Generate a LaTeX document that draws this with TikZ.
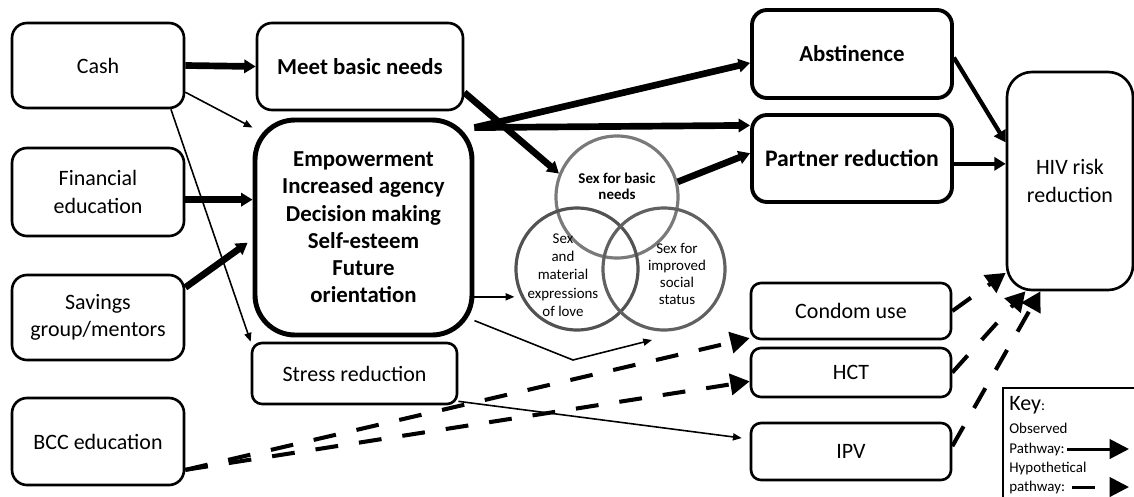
\documentclass[tikz,border=0pt]{standalone}
\usepackage{fontspec}
\setmainfont{Carlito}
\usetikzlibrary{arrows.meta}

\begin{document}
\begin{tikzpicture}[
  box/.style={draw, line width=1.5pt, rounded corners=0.3cm, minimum width=3.44cm,
    align=center, inner sep=2pt, font=\fontsize{12.5}{15.5}\selectfont},
  boldbox/.style={box, font=\fontsize{13}{15.5}\selectfont\bfseries},
  ring/.style={circle, draw=black!62, line width=1.8pt, minimum size=2.44cm, inner sep=0pt},
  ringtext/.style={align=center, inner sep=0pt},
  keytext/.style={anchor=base west, inner sep=0pt, font=\fontsize{8.5}{10}\selectfont},
  observed/.style={line width=3.8pt, -{Triangle[length=6.5pt,width=7.5pt]}},
  weak/.style={line width=0.9pt, -{Triangle[length=5pt,width=4pt]}},
  hypo/.style={line width=2.3pt, dash pattern=on 13pt off 12pt, -{Triangle[length=11pt,width=12pt]}},
  keyarrow/.style={line width=1.7pt, -{Triangle[length=11pt,width=11pt]}},
]
\useasboundingbox (0,0) rectangle (22.68,9.92);
\clip (0,0) rectangle (22.68,9.92);

% left column
\node[box, minimum height=1.70cm] (cash) at (1.96,8.61) {Cash};
\node[box, minimum height=1.76cm] (fin) at (1.96,6.08) {Financial\\education};
\node[box, minimum height=1.70cm] (sav) at (1.96,3.57) {Savings\\group/mentors};
\node[box, minimum height=1.74cm] (bcc) at (1.96,1.09) {BCC education};

% middle
\node[boldbox, minimum width=4.12cm, minimum height=1.74cm] (meet) at (7.20,8.59) {Meet basic needs};
\node[boldbox, line width=2.8pt, rounded corners=0.8cm, minimum width=4.34cm, minimum height=4.30cm]
  (emp) at (7.27,5.37) {Empowerment\\Increased agency\\Decision making\\Self-esteem\\Future\\orientation};
\node[box, rounded corners=0.2cm, minimum width=4.10cm, minimum height=1.22cm] (stress) at (7.09,2.45) {Stress reduction};

% venn
\node[ring, draw=black!52] (ctop) at (12.34,5.98) {};
\node[ring, draw=black!68] (cleft) at (11.54,4.54) {};
\node[ring] (cright) at (13.28,4.54) {};
\node[ringtext, font=\fontsize{8.5}{9.3}\selectfont\bfseries] (ttop) at (12.34,6.20) {Sex for basic\\needs};
\node[ringtext, font=\fontsize{8.5}{10.4}\selectfont] (tleft) at (11.26,4.42) {Sex\\and\\material\\expressions\\of love};
\node[ringtext, font=\fontsize{8.5}{9.7}\selectfont] (tright) at (13.54,4.44) {Sex for\\improved\\social\\status};

% right
\node[boldbox, line width=2.2pt, minimum width=4.0cm, minimum height=1.76cm] (abst) at (17.04,8.84) {Abstinence};
\node[boldbox, line width=2.2pt, minimum width=4.0cm, minimum height=1.74cm, font=\fontsize{13.5}{16}\selectfont\bfseries]
  (part) at (17.04,6.75) {Partner reduction};
\node[box, rounded corners=0.2cm, minimum width=4.0cm, minimum height=1.12cm] (condom) at (17.02,3.70) {Condom use};
\node[box, rounded corners=0.2cm, minimum width=4.0cm, minimum height=0.98cm] (hct) at (17.02,2.47) {HCT};
\node[box, rounded corners=0.2cm, minimum width=4.0cm, minimum height=1.14cm] (ipv) at (17.02,0.89) {IPV};
\node[box, rounded corners=0.5cm, minimum width=2.52cm, minimum height=4.36cm] (hiv) at (21.40,6.30) {HIV risk\\reduction};

\coordinate (bend) at (11.46,2.72);
\coordinate (bendtip) at (13.04,3.12);

% observed pathways
\draw[observed] (cash.east) -- (meet.west);
\draw[observed] (fin.-5) -- (fin.-5 -| emp.west);
\draw[observed, shorten >=0.12cm] (sav.19) -- (emp.186.6);
\draw[observed] (meet.-14) -- (ctop.158);
\draw[observed] (emp.42) -- (abst.185);
\draw[observed] (emp.42) -- (part.162.5);
\draw[observed] (ctop.14) -- (part.177);
\draw[observed, line width=2.4pt] (abst.-2) -- (hiv.149);
\draw[observed, line width=2.4pt] (part.-3) -- (part.-3 -| hiv.west);
\draw[weak] (cash.-17.5) -- (emp.138.7);
\draw[weak] (cash.-31.6) -- (stress.north west);
\draw[weak] (emp.-32.3) -- (emp.-32.3 -| cleft.west);
\draw[weak] (emp.-40.7) -- (bend) -- (bendtip);
\draw[weak, shorten >=0.16cm] (stress.-15.5) -- (ipv.173.4);

% hypothetical pathways
\draw[hypo] (bcc.-18.3) -- (condom.195);
\draw[hypo] (bcc.-18.3) -- (hct.185.4);
\draw[hypo] (condom.east) -- (hiv.235.3);
\draw[hypo] (hct.east) -- (hiv.248.5);
\draw[hypo] (ipv.3) -- (hiv.255.6);

% key
\node[draw, line width=1pt, anchor=north west, minimum width=3.2cm, minimum height=2.8cm] (key) at (20.04,2.18) {};
\node[anchor=base west, inner sep=0pt, font=\fontsize{12.5}{14}\selectfont] (ktitle) at (20.18,1.72) {Key{\fontsize{8.5}{10}\selectfont:}};
\node[keytext] (kobs) at (20.18,1.26) {Observed};
\node[keytext] (kpath) at (20.18,0.86) {Pathway:};
\node[keytext] (khyp) at (20.18,0.48) {Hypothetical};
\node[keytext] (kpath2) at (20.18,0.10) {pathway:};
\coordinate (kend) at (22.58,0.5);
\draw[keyarrow] ([xshift=1pt]kpath.east) -- (kpath.east -| kend);
\draw[keyarrow, dash pattern=on 13pt off 20pt] ([xshift=4pt]kpath2.east) -- (kpath2.east -| kend);
\end{tikzpicture}
\end{document}
